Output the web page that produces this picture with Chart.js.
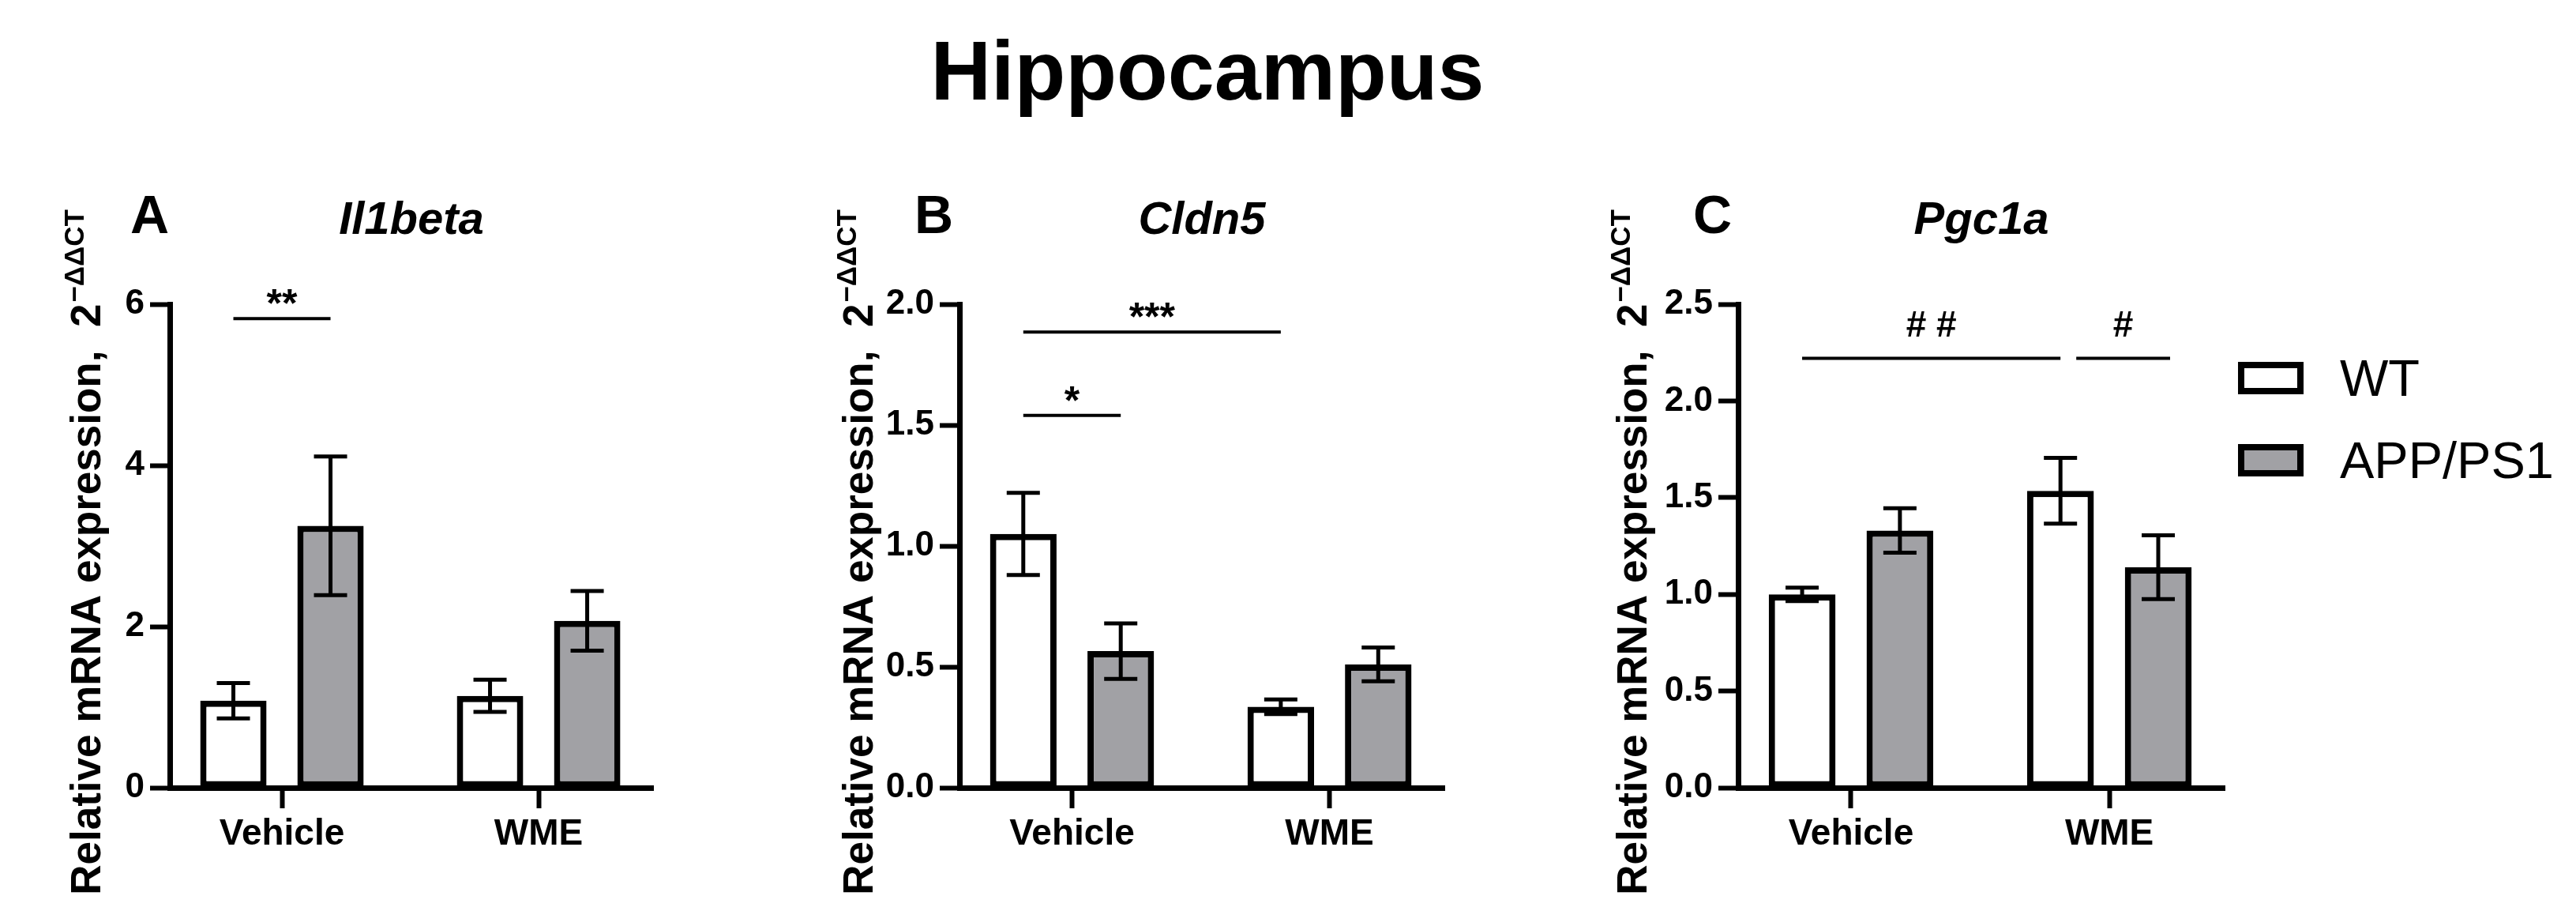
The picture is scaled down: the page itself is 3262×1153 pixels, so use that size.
<!DOCTYPE html>
<html>
<head>
<meta charset="utf-8">
<script src="https://cdn.jsdelivr.net/npm/chart.js@4.4.1/dist/chart.umd.min.js"></script>
<style>
  body { margin: 0; background: #fff; }
  #wrap { position: relative; width: 3262px; height: 1153px; overflow: hidden; }
  canvas { position: absolute; top: 0; }
  #title { position: absolute; left: 0; top: 36px; width: 3058px; text-align: center;
           font: bold 106px/106px 'Liberation Sans', Arial, sans-serif; color: #000; }
</style>
</head>
<body>
<div id="wrap">
  <div id="title">Hippocampus</div>
  <canvas id="chartA" width="1000" height="1153" style="left:0px"></canvas>
  <canvas id="chartB" width="1000" height="1153" style="left:1000px"></canvas>
  <canvas id="chartC" width="1262" height="1153" style="left:2000px"></canvas>
</div>
<script>
  // groups and genotypes
  const categories = ['Vehicle', 'WME'];
  const seriesNames = ['WT', 'APP/PS1'];

  // Il1beta (mean, SEM)
  const il1bWT = [1.08, 1.14];
  const il1bWTErr = [0.22, 0.20];
  const il1bAPP = [3.25, 2.07];
  const il1bAPPErr = [0.86, 0.37];
  const il1bTicks = [0, 2, 4, 6];

  // Cldn5
  const cldn5WT = [1.05, 0.335];
  const cldn5WTErr = [0.17, 0.03];
  const cldn5APP = [0.565, 0.51];
  const cldn5APPErr = [0.115, 0.07];
  const cldn5Ticks = [0, 0.5, 1.0, 1.5, 2.0];

  // Pgc1a
  const pgc1aWT = [1.0, 1.535];
  const pgc1aWTErr = [0.035, 0.17];
  const pgc1aAPP = [1.33, 1.14];
  const pgc1aAPPErr = [0.115, 0.165];
  const pgc1aTicks = [0, 0.5, 1.0, 1.5, 2.0, 2.5];

  // significance marks: [category, series] -> [category, series] at value y
  const il1bSig = [{ from: [0, 0], to: [0, 1], y: 5.82, text: '**' }];
  const cldn5Sig = [
    { from: [0, 0], to: [0, 1], y: 1.54, text: '*' },
    { from: [0, 0], to: [1, 0], y: 1.885, text: '***' }
  ];
  const pgc1aSig = [
    { from: [0, 0], to: [1, 0], y: 2.22, text: '# #' },
    { from: [1, 0], to: [1, 1], y: 2.22, text: '#' }
  ];

  const FONT = "'Liberation Sans', Arial, sans-serif";
  const fills = ['#ffffff', '#a1a1a5'];
  const yTitle = 'Relative mRNA expression,  2';
  const ySup = '\u2212\u0394\u0394CT';

  const errorBars = {
    id: 'errorBars',
    afterDatasetsDraw(chart) {
      const ctx = chart.ctx, y = chart.scales.y;
      ctx.save();
      ctx.strokeStyle = '#000';
      ctx.lineWidth = 5;
      chart.data.datasets.forEach((ds, di) => {
        chart.getDatasetMeta(di).data.forEach((bar, i) => {
          const v = ds.data[i].y, e = ds.errors[i];
          const top = y.getPixelForValue(v + e), bot = y.getPixelForValue(v - e);
          ctx.beginPath();
          ctx.moveTo(bar.x, top); ctx.lineTo(bar.x, bot);
          ctx.moveTo(bar.x - 21, top); ctx.lineTo(bar.x + 21, top);
          ctx.moveTo(bar.x - 21, bot); ctx.lineTo(bar.x + 21, bot);
          ctx.stroke();
        });
      });
      ctx.restore();
    }
  };

  const sigLines = {
    id: 'sigLines',
    afterDraw(chart, args, opts) {
      const ctx = chart.ctx, y = chart.scales.y;
      const nudges = opts.nudges || [];
      (opts.items || []).forEach((it, k) => {
        const n = nudges[k] || [0, 0];
        const x1 = chart.getDatasetMeta(it.from[1]).data[it.from[0]].x + n[0];
        const x2 = chart.getDatasetMeta(it.to[1]).data[it.to[0]].x + n[1];
        const py = y.getPixelForValue(it.y);
        ctx.save();
        ctx.strokeStyle = '#000';
        ctx.lineWidth = 4;
        ctx.beginPath();
        ctx.moveTo(x1, py); ctx.lineTo(x2, py);
        ctx.stroke();
        const star = it.text.indexOf('*') >= 0;
        ctx.fillStyle = '#000';
        ctx.font = (star ? 'bold 50px ' : 'bold 46px ') + FONT;
        ctx.textAlign = 'center';
        ctx.textBaseline = 'alphabetic';
        ctx.fillText(it.text, (x1 + x2) / 2, py - (star ? 2 : 28));
        ctx.restore();
      });
    }
  };

  const panelText = {
    id: 'panelText',
    afterDraw(chart, args, opts) {
      const ctx = chart.ctx, a = chart.chartArea;
      ctx.save();
      ctx.fillStyle = '#000';
      ctx.textBaseline = 'alphabetic';
      ctx.textAlign = 'left';
      ctx.font = 'bold 68px ' + FONT;
      ctx.fillText(opts.letter, a.left + opts.letterDX, 295);
      ctx.textAlign = 'center';
      ctx.font = 'italic bold 58px ' + FONT;
      ctx.fillText(opts.gene, (a.left + a.right) / 2, 296);
      // rotated y title with superscript
      ctx.translate(a.left + opts.titleDX, 700);
      ctx.rotate(-Math.PI / 2);
      ctx.textAlign = 'left';
      ctx.font = 'bold 53px ' + FONT;
      const wm = ctx.measureText(yTitle).width;
      ctx.font = 'bold 35px ' + FONT;
      const ws = ctx.measureText(ySup).width;
      const x0 = -(wm + ws) / 2;
      ctx.font = 'bold 53px ' + FONT;
      ctx.fillText(yTitle, x0, 0);
      ctx.font = 'bold 35px ' + FONT;
      ctx.fillText(ySup, x0 + wm + 2, -21);
      ctx.restore();
    }
  };

  const legendBox = {
    id: 'legendBox',
    afterDraw(chart, args, opts) {
      if (!opts.show) return;
      const ctx = chart.ctx;
      ctx.save();
      chart.data.datasets.forEach((ds, i) => {
        const top = 458 + i * 104;
        ctx.fillStyle = ds.backgroundColor;
        ctx.fillRect(opts.x, top, 83, 41);
        ctx.strokeStyle = '#000';
        ctx.lineWidth = 8;
        ctx.strokeRect(opts.x + 4, top + 4, 75, 33);
        ctx.fillStyle = '#000';
        ctx.font = '65px ' + FONT;
        ctx.textAlign = 'left';
        ctx.textBaseline = 'alphabetic';
        ctx.fillText(ds.label, opts.x + 129, top + 43);
      });
      ctx.restore();
    }
  };

  function makePanel(id, opt) {
    const canvas = document.getElementById(id);
    const datasets = [opt.wt, opt.app].map((vals, s) => ({
      label: seriesNames[s],
      data: categories.map((c, i) => ({ x: i + 1, y: vals[i] })),
      errors: [opt.wtErr, opt.appErr][s],
      backgroundColor: fills[s],
      borderColor: '#000',
      borderWidth: 8,
      borderSkipped: false,
      categoryPercentage: 0.757,
      barPercentage: 0.683
    }));
    return new Chart(canvas, {
      type: 'bar',
      data: { datasets: datasets },
      plugins: [errorBars, sigLines, panelText, legendBox],
      options: {
        responsive: false,
        animation: false,
        layout: { padding: { left: 0, top: 385, bottom: 56, right: canvas.width - opt.right } },
        plugins: {
          legend: { display: false },
          tooltip: { enabled: false },
          sigLines: { items: opt.sig, nudges: opt.nudges },
          panelText: { letter: opt.letter, gene: opt.gene, letterDX: opt.letterDX, titleDX: opt.titleDX },
          legendBox: { show: !!opt.legend, x: opt.legendX }
        },
        scales: {
          x: {
            type: 'linear',
            min: 0.563, max: 2.446,
            offset: false,
            afterBuildTicks: s => { s.ticks = categories.map((c, i) => ({ value: i + 1 })); },
            afterFit: s => { s.height = 100; },
            ticks: {
              autoSkip: false, maxRotation: 0, padding: 6, color: '#000',
              font: { family: FONT, size: 46, weight: 'bold' },
              callback: v => categories[v - 1]
            },
            grid: { offset: false, drawOnChartArea: false, tickLength: 26, tickWidth: 6, tickColor: '#000' },
            border: { color: '#000', width: 7 }
          },
          y: {
            min: 0, max: opt.ticks[opt.ticks.length - 1],
            afterBuildTicks: s => { s.ticks = opt.ticks.map(v => ({ value: v })); },
            afterFit: s => { s.width = opt.left; },
            ticks: {
              padding: 7, color: '#000',
              font: { family: FONT, size: 44, weight: 'bold' },
              callback: v => opt.decimals ? v.toFixed(1) : String(v)
            },
            grid: { drawOnChartArea: false, tickLength: 25, tickWidth: 6, tickColor: '#000' },
            border: { color: '#000', width: 7 }
          }
        }
      }
    });
  }

  makePanel('chartA', {
    wt: il1bWT, wtErr: il1bWTErr, app: il1bAPP, appErr: il1bAPPErr,
    ticks: il1bTicks, decimals: false, sig: il1bSig,
    letter: 'A', gene: 'Il1beta', left: 215, right: 827, letterDX: -50, titleDX: -88
  });
  makePanel('chartB', {
    wt: cldn5WT, wtErr: cldn5WTErr, app: cldn5APP, appErr: cldn5APPErr,
    ticks: cldn5Ticks, decimals: true, sig: cldn5Sig,
    letter: 'B', gene: 'Cldn5', left: 215, right: 829, letterDX: -57, titleDX: -110
  });
  makePanel('chartC', {
    wt: pgc1aWT, wtErr: pgc1aWTErr, app: pgc1aAPP, appErr: pgc1aAPPErr,
    ticks: pgc1aTicks, decimals: true, sig: pgc1aSig, nudges: [[0, 0], [20, 15]],
    letter: 'C', gene: 'Pgc1a', left: 201, right: 817, letterDX: -57, titleDX: -116,
    legend: true, legendX: 834
  });
</script>
</body>
</html>
